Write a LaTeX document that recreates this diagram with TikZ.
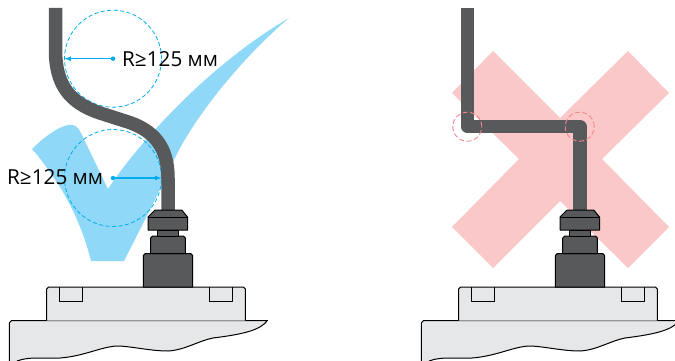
\documentclass[tikz,border=0pt]{standalone}
\usepackage{fontspec}
\setmainfont{Open Sans}
\definecolor{cablegrey}{HTML}{58595B}
\definecolor{plategrey}{HTML}{E6E7E8}
\definecolor{tickblue}{HTML}{8FD8F8}
\definecolor{linkblue}{HTML}{00AEEF}
\definecolor{crossred}{HTML}{FAC8C8}
\definecolor{ringred}{HTML}{F0878E}
\tikzset{
  cable/.style={line width=13.5pt, cablegrey},
  part/.style={draw=black, line width=1pt, line join=round},
  okring/.style={circle, draw=linkblue, dash pattern=on 4pt off 2.5pt, line width=0.8pt, minimum size=97pt, inner sep=0pt, outer sep=0pt},
  badring/.style={circle, draw=ringred, dash pattern=on 5pt off 2.5pt, line width=0.9pt, minimum size=29pt, inner sep=0pt, outer sep=0pt},
  centredot/.style={circle, fill=linkblue, minimum size=4.5pt, inner sep=0pt},
  radius line/.style={draw=linkblue, line width=1.2pt, -latex},
  size label/.style={font=\fontsize{20.7}{24}\selectfont, inner sep=0pt},
  device/.pic={
    \fill[plategrey, part] (9.3,361.5) -- (9.3,323) -- (11.5,320.5) -- (267.5,320.5) .. controls (260,330) and (245,334) .. (213,338) .. controls (198,341) and (185,350) .. (168,351) .. controls (150,351) and (130,346) .. (117,346) .. controls (100,347) and (85,356) .. (60,358) .. controls (45,359) and (30,356) .. (17,361); %wall
    \fill[plategrey, part] (46.7,320.5) -- (46.7,289) -- (48.7,287) -- (243.3,287) -- (245.3,289) -- (245.3,320.5); %plate
    \draw[part] (59,287) -- (59,301.7) -- (82,301.7) -- (82,287);
    \draw[part] (209.3,287) -- (209.3,301.7) -- (232,301.7) -- (232,287);
    \fill[cablegrey, part] (143.3,287) -- (143.3,255.5) -- (145.3,253.5) -- (190.7,253.5) -- (192.7,255.5) -- (192.7,287) -- cycle; %base
    \fill[cablegrey, part] (150.7,253.5) -- (150.7,238) -- (152.7,236) -- (183.3,236) -- (185.3,238) -- (185.3,253.5) -- cycle;
    \fill[cablegrey, part] (157.7,236) -- (157.7,230) -- (178.3,230) -- (178.3,236) -- cycle; %neck
    \fill[cablegrey, part] (155,210) -- (181.7,210) -- (187.5,217) -- (187.5,230) -- (148,230) -- (148,217) -- cycle; %gland
    \draw[part] (148,217.5) -- (187.5,217.5);
  }
}
\begin{document}
\begin{tikzpicture}[x=1pt, y=-1pt]
\useasboundingbox (0,0) rectangle (675,361);

% left side
\fill[tickblue] (289,18) .. controls (245,55) and (195,115) .. (174,160) .. controls (165,180) and (145,220) .. (124,261) -- (91,261) .. controls (82,225) and (70,205) .. (62,190) .. controls (52,175) and (42,160) .. (32,149) .. controls (44,137) and (58,127) .. (68,125) .. controls (75,124) and (78,127) .. (81,133) -- (108,189) .. controls (130,155) and (200,70) .. (289,18); %tick
\node[okring] (upperring) at (113,58.7) {};
\node[okring] (lowerring) at (113,178) {};
\draw[cable] (55.5,8) -- (55.5,50) .. controls (55.5,85) and (70,103) .. (100,113) -- (125,121) .. controls (155,130) and (168,148) .. (168,178) -- (168,212); %good bend
\node[centredot] (upperdot) at (upperring.center) {};
\node[centredot] (lowerdot) at (lowerring.center) {};
\draw[radius line] (upperdot) -- (upperring.west);
\draw[radius line] (lowerdot) -- (lowerring.east);
\node[size label, anchor=west] (upperlabel) at (122,59) {R≥125 мм};
\node[size label, anchor=west] (lowerlabel) at (7,177) {R≥125 мм};
\pic at (0,0) {device};

% right side
\fill[crossred] (493,51) -- (560,118) -- (628,51) -- (669,93) -- (602,159) -- (669,227) -- (628,268) -- (560,201) -- (493,268) -- (452,227) -- (519,159) -- (452,93) -- cycle; %cross
\draw[cable, line join=round] (467.7,8) -- (467.7,126.7) -- (580,126.7) -- (580,212); %bad bend
\node[badring] (leftring) at (467.3,126.7) {};
\node[badring] (rightring) at (579.7,126.7) {};
\pic at (412,0) {device};
\end{tikzpicture}
\end{document}
